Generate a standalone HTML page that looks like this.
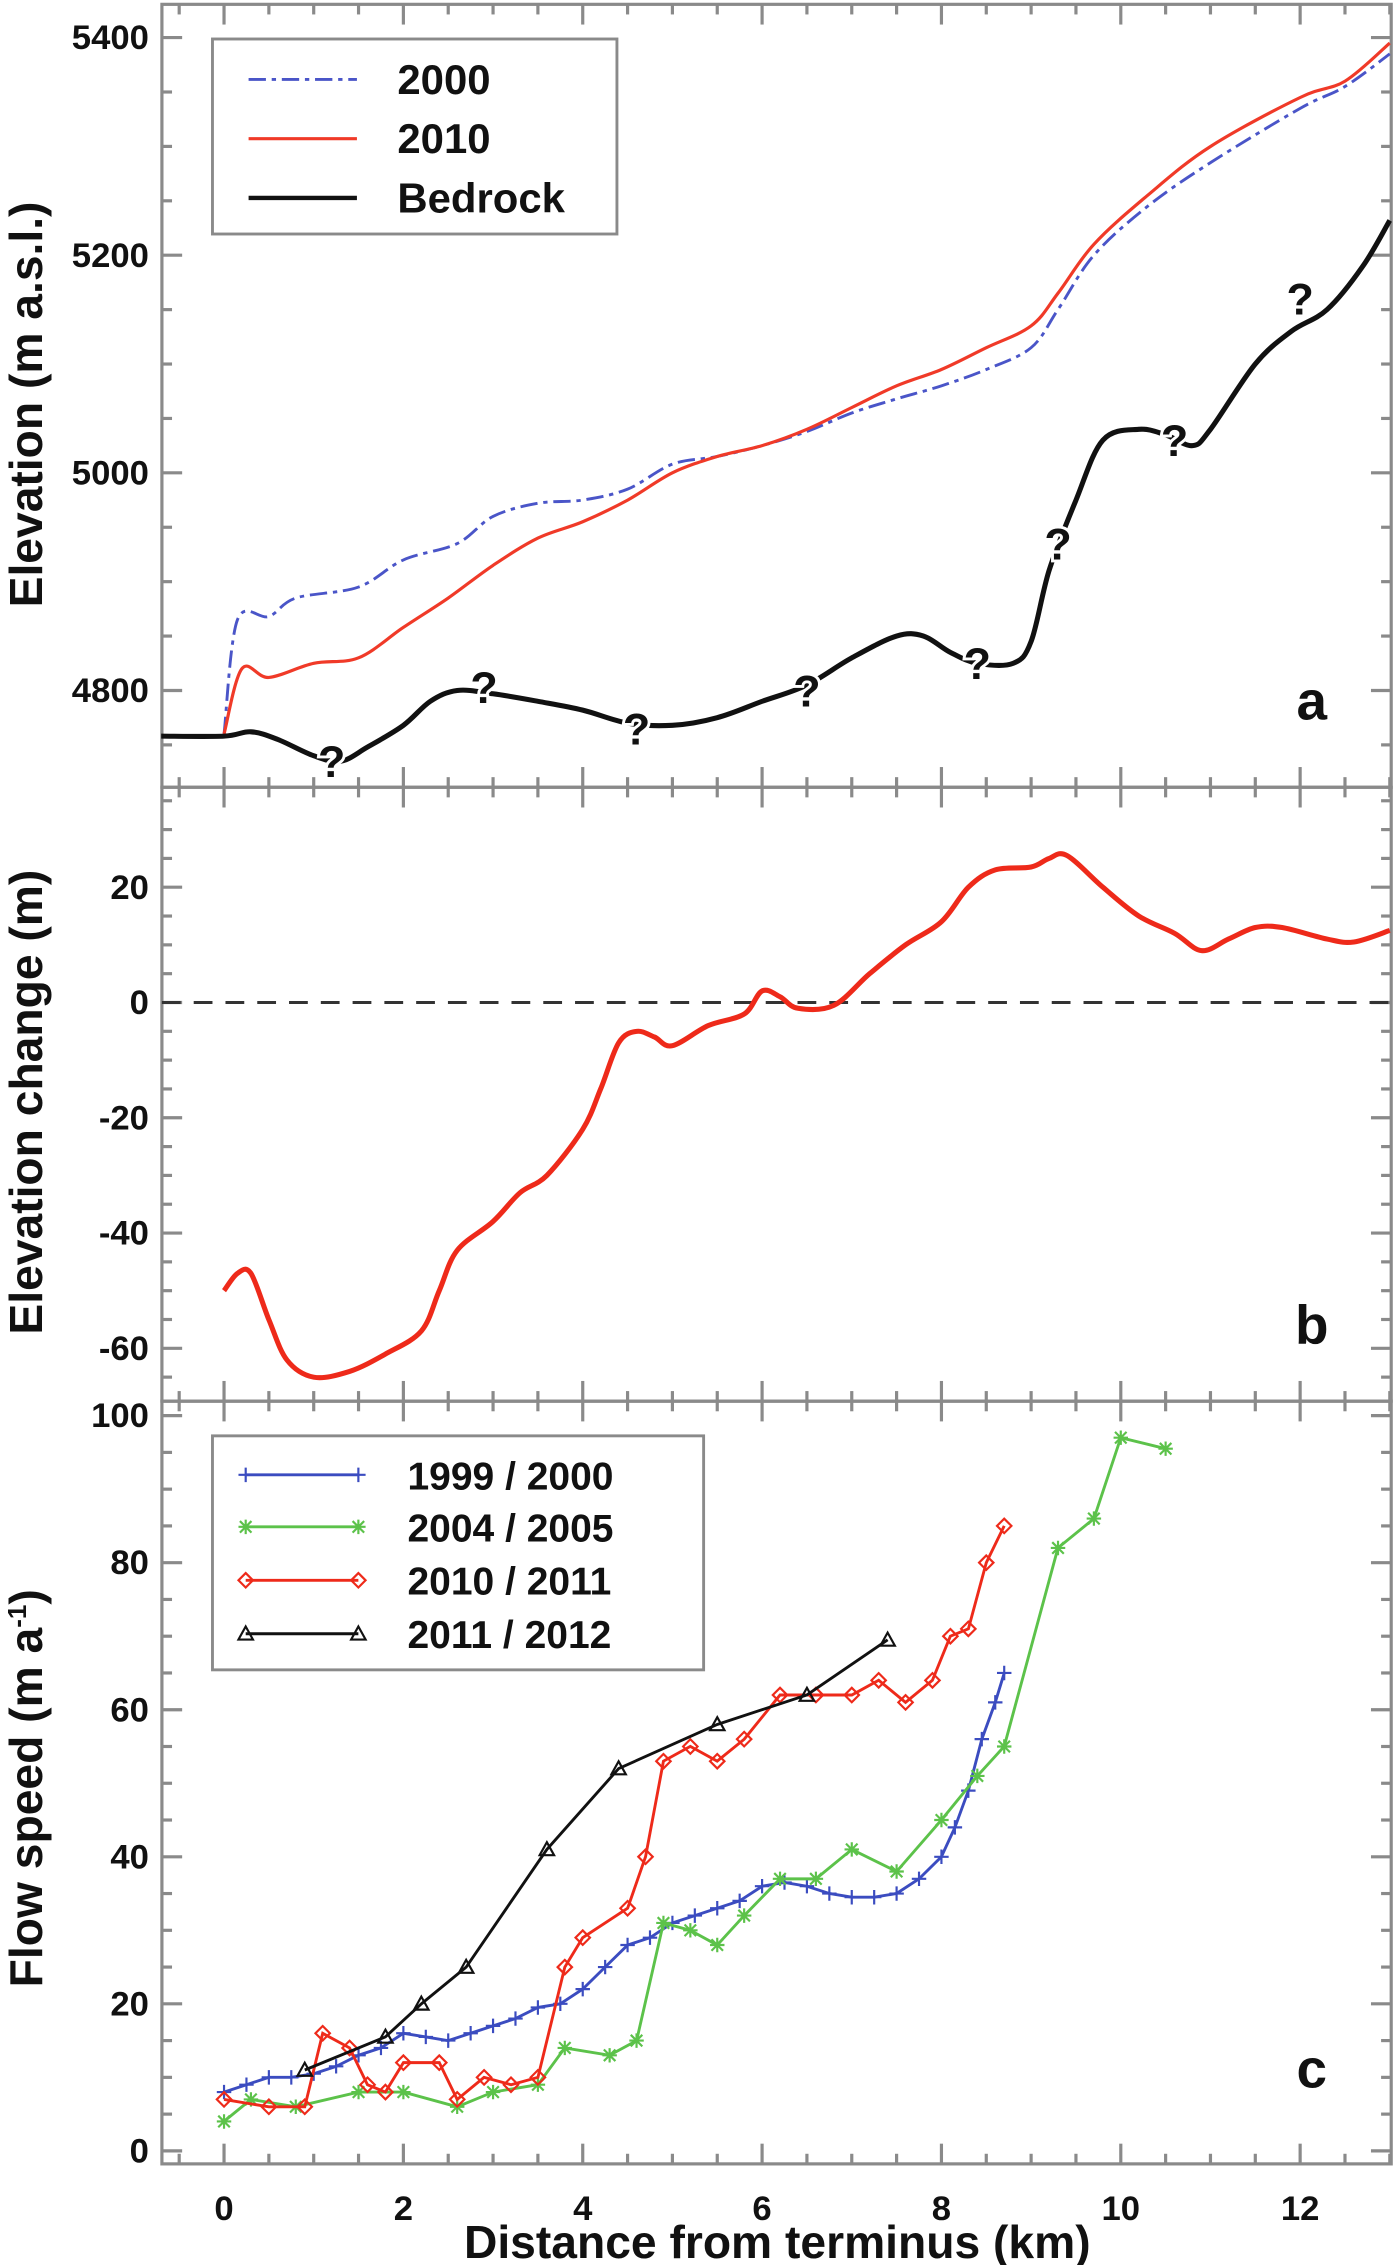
<!DOCTYPE html>
<html><head><meta charset="utf-8"><style>
html,body{margin:0;padding:0;background:#fff}
svg{display:block}
text{font-family:"Liberation Sans",Arial,sans-serif;font-weight:bold;fill:#111}
</style></head><body>
<svg id="fig" width="1400" height="2265" viewBox="0 0 969 1568" xmlns="http://www.w3.org/2000/svg"></svg>
<script>
// ---- data ----
const elevKm2000=[0,0.15,0.5,0.8,1.5,2,2.6,3,3.5,4,4.5,5,5.5,6,6.5,7,7.5,8,8.5,9,9.3,9.7,10.3,11,12,12.5,13];
const elev2000=[4760,4865,4868,4885,4895,4920,4935,4960,4972,4975,4985,5008,5015,5025,5038,5055,5068,5080,5095,5115,5150,5200,5245,5285,5335,5355,5385];
const elevKm2010=[0,0.2,0.5,1,1.5,2,2.5,3,3.5,4,4.5,5,5.5,6,6.5,7,7.5,8,8.5,9,9.3,9.7,10.3,11,12,12.5,13];
const elev2010=[4760,4820,4812,4825,4830,4858,4885,4915,4940,4955,4975,5000,5015,5025,5040,5060,5080,5095,5115,5135,5165,5210,5255,5300,5345,5360,5395];
const bedKm=[-0.7,0,0.3,0.6,1,1.3,1.6,2,2.3,2.6,3,3.5,4,4.5,5,5.5,6,6.5,7,7.5,7.8,8.1,8.4,8.8,9,9.2,9.5,9.8,10.2,10.5,10.8,11,11.5,11.9,12.3,12.7,13];
const bedElev=[4758,4758,4762,4755,4740,4735,4748,4768,4790,4800,4797,4790,4782,4770,4768,4775,4790,4805,4830,4850,4850,4835,4825,4825,4845,4910,4975,5030,5040,5035,5025,5040,5100,5130,5150,5190,5232];
const qKm=[1.2,2.9,4.6,6.5,8.4,9.3,10.6,12.0];
const qElev=[4735,4803,4765,4800,4825,4935,5030,5160];
const dKm=[0,0.15,0.3,0.5,0.7,1,1.4,1.8,2.2,2.4,2.6,3,3.3,3.6,4,4.2,4.4,4.6,4.8,5,5.4,5.8,6,6.2,6.4,6.8,7.2,7.6,8,8.3,8.6,9,9.2,9.4,9.8,10.2,10.6,10.9,11.2,11.5,11.8,12.3,12.6,13];
const dElev=[-50,-47,-47,-55,-62,-65,-64,-61,-57,-50,-43,-38,-33,-30,-22,-15,-7,-5,-6,-7.5,-4,-2,2,1,-1,-0.5,5,10,14,20,23,23.5,25,25.5,20,15,12,9,11,13,13,11,10.5,12.5];
const vKm1=[0,0.25,0.5,0.75,1,1.25,1.5,1.75,2,2.25,2.5,2.75,3,3.25,3.5,3.75,4,4.25,4.5,4.75,5,5.25,5.5,5.75,6,6.25,6.5,6.75,7,7.25,7.5,7.75,8,8.15,8.3,8.45,8.6,8.7];
const v1=[8,9,10,10,10.5,11.5,13,14,16,15.5,15,16,17,18,19.5,20,22,25,28,29,31,32,33,34,36,36.5,36,35,34.5,34.5,35,37,40,44,49,56,61,65];
const vKm2=[0,0.3,0.8,1.5,2,2.6,3,3.5,3.8,4.3,4.6,4.9,5.2,5.5,5.8,6.2,6.6,7,7.5,8,8.4,8.7,9.3,9.7,10,10.5];
const v2=[4,7,6,8,8,6,8,9,14,13,15,31,30,28,32,37,37,41,38,45,51,55,82,86,97,95.5];
const vKm3=[0,0.5,0.9,1.1,1.4,1.6,1.8,2,2.4,2.6,2.9,3.2,3.5,3.8,4,4.5,4.7,4.9,5.2,5.5,5.8,6.2,6.6,7,7.3,7.6,7.9,8.1,8.3,8.5,8.7];
const v3=[7,6,6,16,14,9,8,12,12,7,10,9,10,25,29,33,40,53,55,53,56,62,62,62,64,61,64,70,71,80,85];
const vKm4=[0.9,1.8,2.2,2.7,3.6,4.4,5.5,6.5,7.4];
const v4=[11,15.5,20,25,41,52,58,62,69.5];
const xTicks=[0,2,4,6,8,10,12];
const aTicks=[4800,5000,5200,5400];
const bTicks=[-60,-40,-20,0,20];
const cTicks=[0,20,40,60,80,100];

const NS="http://www.w3.org/2000/svg";
const svg=document.getElementById('fig');
function el(t,a,p){const e=document.createElementNS(NS,t);for(const k in a)e.setAttribute(k,a[k]);(p||svg).appendChild(e);return e;}
const L=112,R=963;
const X=k=>155+(k)*62.08;
const Ya=v=>478-(v-4800)*0.7533;
const Yb=v=>694-v*3.99;
const Yc=v=>1489-v*5.09;
const panels=[{top:3,bot:545,Y:Ya,min:4711,max:5430,minor:50,ticks:aTicks},
 {top:545,bot:970,Y:Yb,min:-69,max:37,minor:5,ticks:bTicks},
 {top:970,bot:1498,Y:Yc,min:-1.8,max:102,minor:5,ticks:cTicks}];
const ax=el('g',{stroke:'#8a8a8a','stroke-width':2.2,fill:'none'});

panels.forEach(p=>{
  el('rect',{x:L,y:p.top,width:R-L,height:p.bot-p.top},ax);
  for(let k=-0.5;k<=13;k+=0.5){const maj=Math.abs(k/2-Math.round(k/2))<1e-6;const len=maj?14:7;const x=X(k);
    el('line',{x1:x,x2:x,y1:p.top,y2:p.top+len},ax);el('line',{x1:x,x2:x,y1:p.bot,y2:p.bot-len},ax);}
  const start=Math.ceil(p.min/p.minor)*p.minor;
  for(let v=start;v<=p.max;v+=p.minor){const maj=p.ticks.includes(v);const len=maj?14:7;const y=p.Y(v);
    el('line',{x1:L,x2:L+len,y1:y,y2:y},ax);el('line',{x1:R,x2:R-len,y1:y,y2:y},ax);}
  p.ticks.forEach(v=>{const t=el('text',{x:103,y:p.Y(v)+8,'text-anchor':'end','font-size':24});t.textContent=v;
    });
});
xTicks.forEach(k=>{const t=el('text',{x:X(k),y:1537,'text-anchor':'middle','font-size':24});t.textContent=k;
  });
function smoothD(pts){let d='M'+pts[0][0].toFixed(1)+','+pts[0][1].toFixed(1);
  for(let i=0;i<pts.length-1;i++){const p0=pts[i-1]||pts[i],p1=pts[i],p2=pts[i+1],p3=pts[i+2]||p2;
    const c1=[p1[0]+(p2[0]-p0[0])/6,p1[1]+(p2[1]-p0[1])/6],c2=[p2[0]-(p3[0]-p1[0])/6,p2[1]-(p3[1]-p1[1])/6];
    d+=`C${c1[0].toFixed(1)},${c1[1].toFixed(1)} ${c2[0].toFixed(1)},${c2[1].toFixed(1)} ${p2[0].toFixed(1)},${p2[1].toFixed(1)}`;}
  return d;}
function path(xs,ys,Y,attrs,name){const d=smoothD(xs.map((k,i)=>[X(k),Y(ys[i])]));
  const e=el('path',Object.assign({d:d,fill:'none','stroke-linejoin':'round'},attrs));
  return e;}
// panel a
path(elevKm2000,elev2000,Ya,{stroke:'#4a55c8','stroke-width':2,'stroke-dasharray':'12 4 3 4'},'line-2000');
path(elevKm2010,elev2010,Ya,{stroke:'#f03a28','stroke-width':2.2},'line-2010');
path(bedKm,bedElev,Ya,{stroke:'#111','stroke-width':3.5},'line-bedrock');
qKm.forEach((k,i)=>{const t=el('text',{x:X(k),y:Ya(qElev[i])+11,'text-anchor':'middle','font-size':31,stroke:'#fff','stroke-width':4,'paint-order':'stroke'});t.textContent='?';
  });
// panel b
const z=el('line',{x1:L,x2:R,y1:Yb(0),y2:Yb(0),stroke:'#333','stroke-width':2,'stroke-dasharray':'13 9'});

path(dKm,dElev,Yb,{stroke:'#ee2a1a','stroke-width':3.5},'line-elevation-change');
// panel c
function marker(type,x,y,c,g){
  if(type==='plus'){el('path',{d:`M${x-5},${y}H${x+5}M${x},${y-5}V${y+5}`,stroke:c,'stroke-width':1.5},g);}
  else if(type==='star'){el('path',{d:`M${x-5},${y}H${x+5}M${x-4},${y-4}L${x+4},${y+4}M${x-4},${y+4}L${x+4},${y-4}M${x},${y-5}V${y+5}`,stroke:c,'stroke-width':1.5},g);}
  else if(type==='diamond'){el('path',{d:`M${x},${y-5}L${x+5},${y}L${x},${y+5}L${x-5},${y}Z`,stroke:c,'stroke-width':1.5,fill:'none'},g);}
  else {el('path',{d:`M${x},${y-5}L${x+5},${y+4}L${x-5},${y+4}Z`,stroke:c,'stroke-width':1.5,fill:'none'},g);}
}
const series=[[vKm1,v1,'#3b4cc0','plus','series-1999-2000'],[vKm2,v2,'#5cc24a','star','series-2004-2005'],[vKm3,v3,'#ee2a1a','diamond','series-2010-2011'],[vKm4,v4,'#111','tri','series-2011-2012']];
series.forEach(s=>{const g=el('g',{});
  const d=s[0].map((k,i)=>(i?'L':'M')+X(k).toFixed(1)+','+Yc(s[1][i]).toFixed(1)).join('');
  el('path',{d:d,fill:'none',stroke:s[2],'stroke-width':2},g);
  s[0].forEach((k,i)=>marker(s[3],X(k),Yc(s[1][i]),s[2],g));});
// legends
function legendBox(x,y,w,h,name){const r=el('rect',{x:x,y:y,width:w,height:h,fill:'#fff',stroke:'#8a8a8a','stroke-width':2});
  }
legendBox(147,27,280,135,'legend-a');
[['2000','#4a55c8','12 4 3 4',2,55],['2010','#f03a28','',2.2,96],['Bedrock','#111','',3,137]].forEach(e=>{
  const g=el('g',{});
  el('line',{x1:172,x2:247,y1:e[4],y2:e[4],stroke:e[1],'stroke-width':e[3],'stroke-dasharray':e[2]},g);
  const t=el('text',{x:275,y:e[4]+10,'font-size':29},g);t.textContent=e[0];});
legendBox(147,994,340,162,'legend-c');
[['1999 / 2000',1021,0],['2004 / 2005',1057,1],['2010 / 2011',1094,2],['2011 / 2012',1131,3]].forEach(e=>{
  const s=series[e[2]];const g=el('g',{});
  el('line',{x1:170,x2:248,y1:e[1],y2:e[1],stroke:s[2],'stroke-width':2},g);
  marker(s[3],170,e[1],s[2],g);marker(s[3],248,e[1],s[2],g);
  const t=el('text',{x:282,y:e[1]+10,'font-size':27},g);t.textContent=e[0];});
// labels
function lab(txt,x,y,size,rot,name,anchor){const t=el('text',{x:x,y:y,'font-size':size,'text-anchor':anchor||'middle',transform:rot?`rotate(-90 ${x} ${y})`:''});t.textContent=txt;
  return t;}
lab('Elevation (m a.s.l.)',29,280,32,true,'y-axis-title-a');
lab('Elevation change (m)',29,763,32,true,'y-axis-title-b');
const ft=lab('Flow speed (m a',29,1238,32,true,'y-axis-title-c');
const ts=document.createElementNS(NS,'tspan');ts.setAttribute('dy','-11');ts.setAttribute('font-size','18');ts.textContent='-1';ft.appendChild(ts);
const ts2=document.createElementNS(NS,'tspan');ts2.setAttribute('dy','11');ts2.textContent=')';ft.appendChild(ts2);
lab('Distance from terminus (km)',538,1563,32,false,'x-axis-title');
lab('a',908,498,38,false,'panel-label-a');
lab('b',908,930,38,false,'panel-label-b');
lab('c',908,1445,38,false,'panel-label-c');
</script>
</body></html>
